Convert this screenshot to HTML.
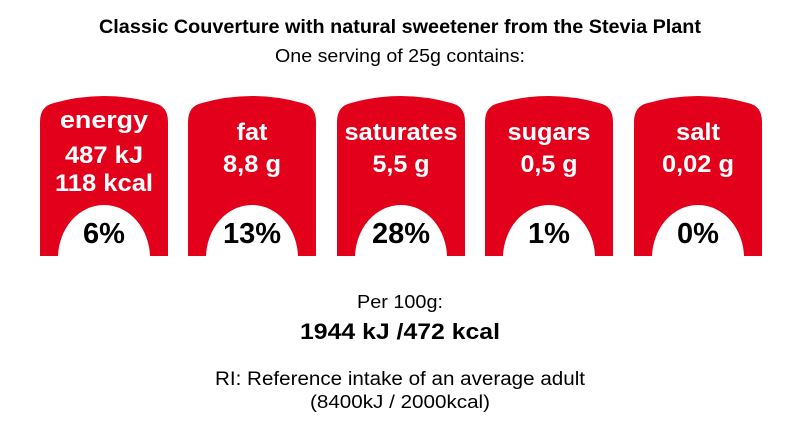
<!DOCTYPE html>
<html><head><style>
body{margin:0;width:800px;height:437px;background:#fff;overflow:hidden}
svg{display:block}
text{font-family:"Liberation Sans",Arial,sans-serif}
</style></head><body>
<svg width="800" height="437" viewBox="0 0 800 437">
<text x="400" y="33" text-anchor="middle" font-size="19" font-weight="bold" fill="#000" textLength="602" lengthAdjust="spacingAndGlyphs">Classic Couverture with natural sweetener from the Stevia Plant</text>
<text x="400" y="62" text-anchor="middle" font-size="18" fill="#000" textLength="250" lengthAdjust="spacingAndGlyphs">One serving of 25g contains:</text>
<defs>
<path id="cap" d="M0,256 L0,122 Q0,106 14,103 Q64,89 114,103 Q128,106 128,122 L128,256 Z"/>
<clipPath id="c"><rect x="0" y="0" width="128" height="256"/></clipPath>
</defs>
<g font-weight="bold" text-anchor="middle" fill="#fff" font-size="24">
<g transform="translate(40,0)"><use href="#cap" fill="#e2001a"/><ellipse cx="64" cy="258" rx="46" ry="53" fill="#fff" clip-path="url(#c)"/>
<text x="64" y="128" textLength="88" lengthAdjust="spacingAndGlyphs">energy</text><text x="64" y="163" textLength="78" lengthAdjust="spacingAndGlyphs">487 kJ</text><text x="64" y="191" textLength="98" lengthAdjust="spacingAndGlyphs">118 kcal</text><text x="64" y="243" font-size="29" fill="#000">6%</text></g>
<g transform="translate(188,0)"><use href="#cap" fill="#e2001a"/><ellipse cx="64" cy="258" rx="46" ry="53" fill="#fff" clip-path="url(#c)"/>
<text x="64" y="140" textLength="31" lengthAdjust="spacingAndGlyphs">fat</text><text x="64" y="172" textLength="58" lengthAdjust="spacingAndGlyphs">8,8 g</text><text x="64" y="243" font-size="29" fill="#000">13%</text></g>
<g transform="translate(337,0)"><use href="#cap" fill="#e2001a"/><ellipse cx="64" cy="258" rx="46" ry="53" fill="#fff" clip-path="url(#c)"/>
<text x="64" y="140" textLength="113" lengthAdjust="spacingAndGlyphs">saturates</text><text x="64" y="172" textLength="57" lengthAdjust="spacingAndGlyphs">5,5 g</text><text x="64" y="243" font-size="29" fill="#000">28%</text></g>
<g transform="translate(485,0)"><use href="#cap" fill="#e2001a"/><ellipse cx="64" cy="258" rx="46" ry="53" fill="#fff" clip-path="url(#c)"/>
<text x="64" y="140" textLength="83" lengthAdjust="spacingAndGlyphs">sugars</text><text x="64" y="172" textLength="57" lengthAdjust="spacingAndGlyphs">0,5 g</text><text x="64" y="243" font-size="29" fill="#000">1%</text></g>
<g transform="translate(634,0)"><use href="#cap" fill="#e2001a"/><ellipse cx="64" cy="258" rx="46" ry="53" fill="#fff" clip-path="url(#c)"/>
<text x="64" y="140" textLength="44" lengthAdjust="spacingAndGlyphs">salt</text><text x="64" y="172" textLength="72" lengthAdjust="spacingAndGlyphs">0,02 g</text><text x="64" y="243" font-size="29" fill="#000">0%</text></g>
</g>
<text x="400" y="308" text-anchor="middle" font-size="18" textLength="86" lengthAdjust="spacingAndGlyphs">Per 100g:</text>
<text x="400" y="339" text-anchor="middle" font-size="22" font-weight="bold" textLength="200" lengthAdjust="spacingAndGlyphs">1944 kJ /472 kcal</text>
<text x="400" y="385" text-anchor="middle" font-size="19" textLength="370" lengthAdjust="spacingAndGlyphs">RI: Reference intake of an average adult</text>
<text x="400" y="408" text-anchor="middle" font-size="18" textLength="180" lengthAdjust="spacingAndGlyphs">(8400kJ / 2000kcal)</text>
</svg>
</body></html>
